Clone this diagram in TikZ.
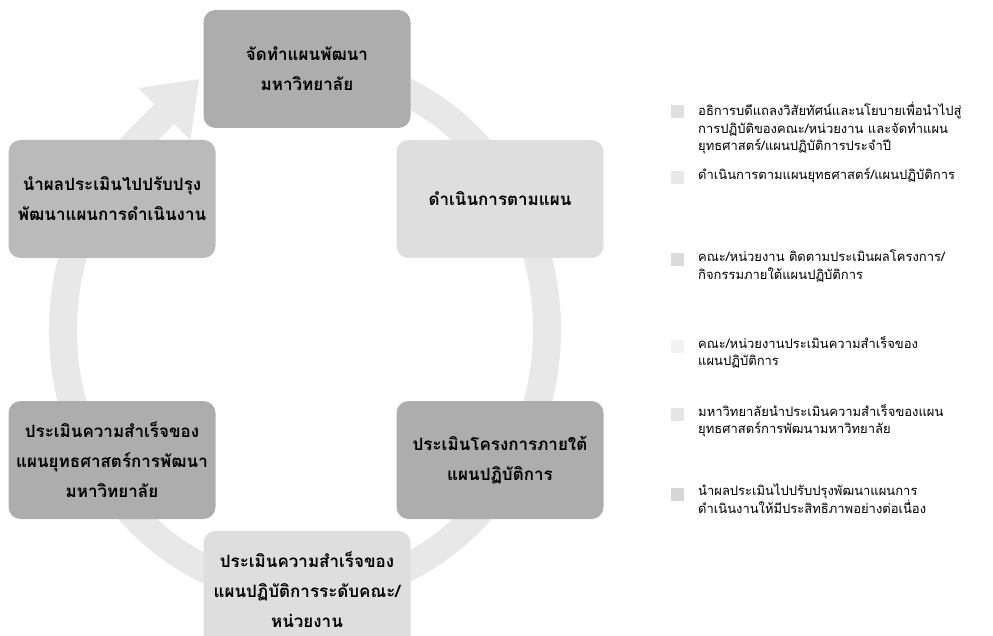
\documentclass[tikz,border=0pt]{standalone}
\usepackage{fontspec}
\newfontfamily\thaifont[Script=Thai]{Loma}
\usetikzlibrary{arrows.meta}
\definecolor{boxdark}{gray}{0.68}
\definecolor{boxmid}{gray}{0.73}
\definecolor{boxlight}{gray}{0.87}
\definecolor{ringgray}{gray}{0.91}
\begin{document}
\begin{tikzpicture}[x=1pt, y=-1pt,
  stepbox/.style={rounded corners=12pt, minimum width=207pt, minimum height=118pt,
    align=center, inner sep=4pt, font=\thaifont\bfseries\fontsize{17}{30}\selectfont},
  keybox/.style={minimum size=13pt, inner sep=0pt},
  keytext/.style={anchor=north west, align=left, inner sep=0pt,
    font=\thaifont\fontsize{13}{17.5}\selectfont}]
  \useasboundingbox (0,0) rectangle (993,636);
  % Ring arrow behind the steps
  \draw[ringgray, line width=28pt, -{Triangle[length=50pt, width=70pt]}]
    (347,72) arc[start angle=-80, end angle=228, x radius=242, y radius=262]
    -- ++(-45:80);
  % Steps of the cycle
  \node[stepbox, fill=boxdark]  (plan)    at (307,69)  {จัดทำแผนพัฒนา\\มหาวิทยาลัย};
  \node[stepbox, fill=boxlight] (act)     at (500,199) {ดำเนินการตามแผน};
  \node[stepbox, fill=boxdark]  (proj)    at (500,460) {ประเมินโครงการภายใต้\\แผนปฏิบัติการ};
  \node[stepbox, fill=boxlight] (fac)     at (307,590) {ประเมินความสำเร็จของ\\แผนปฏิบัติการระดับคณะ/\\หน่วยงาน};
  \node[stepbox, fill=boxdark]  (univ)    at (112,460) {ประเมินความสำเร็จของ\\แผนยุทธศาสตร์การพัฒนา\\มหาวิทยาลัย};
  \node[stepbox, fill=boxmid]   (improve) at (112,199) {นำผลประเมินไปปรับปรุง\\พัฒนาแผนการดำเนินงาน};
  % Legend
  \node[keybox, fill=gray!25] (k1) at (677,112) {};
  \node[keybox, fill=gray!18] (k2) at (677,178) {};
  \node[keybox, fill=gray!28] (k3) at (677,260) {};
  \node[keybox, fill=gray!10] (k4) at (677,346) {};
  \node[keybox, fill=gray!20] (k5) at (677,414) {};
  \node[keybox, fill=gray!32] (k6) at (677,494) {};
  \node[keytext] (t1) at (698,102) {อธิการบดีแถลงวิสัยทัศน์และนโยบายเพื่อนำไปสู่\\การปฏิบัติของคณะ/หน่วยงาน และจัดทำแผน\\ยุทธศาสตร์/แผนปฏิบัติการประจำปี};
  \node[keytext] (t2) at (698,168) {ดำเนินการตามแผนยุทธศาสตร์/แผนปฏิบัติการ};
  \node[keytext] (t3) at (698,250) {คณะ/หน่วยงาน ติดตามประเมินผลโครงการ/\\กิจกรรมภายใต้แผนปฏิบัติการ};
  \node[keytext] (t4) at (698,336) {คณะ/หน่วยงานประเมินความสำเร็จของ\\แผนปฏิบัติการ};
  \node[keytext] (t5) at (698,404) {มหาวิทยาลัยนำประเมินความสำเร็จของแผน\\ยุทธศาสตร์การพัฒนามหาวิทยาลัย};
  \node[keytext] (t6) at (698,484) {นำผลประเมินไปปรับปรุงพัฒนาแผนการ\\ดำเนินงานให้มีประสิทธิภาพอย่างต่อเนื่อง};
\end{tikzpicture}
\end{document}
